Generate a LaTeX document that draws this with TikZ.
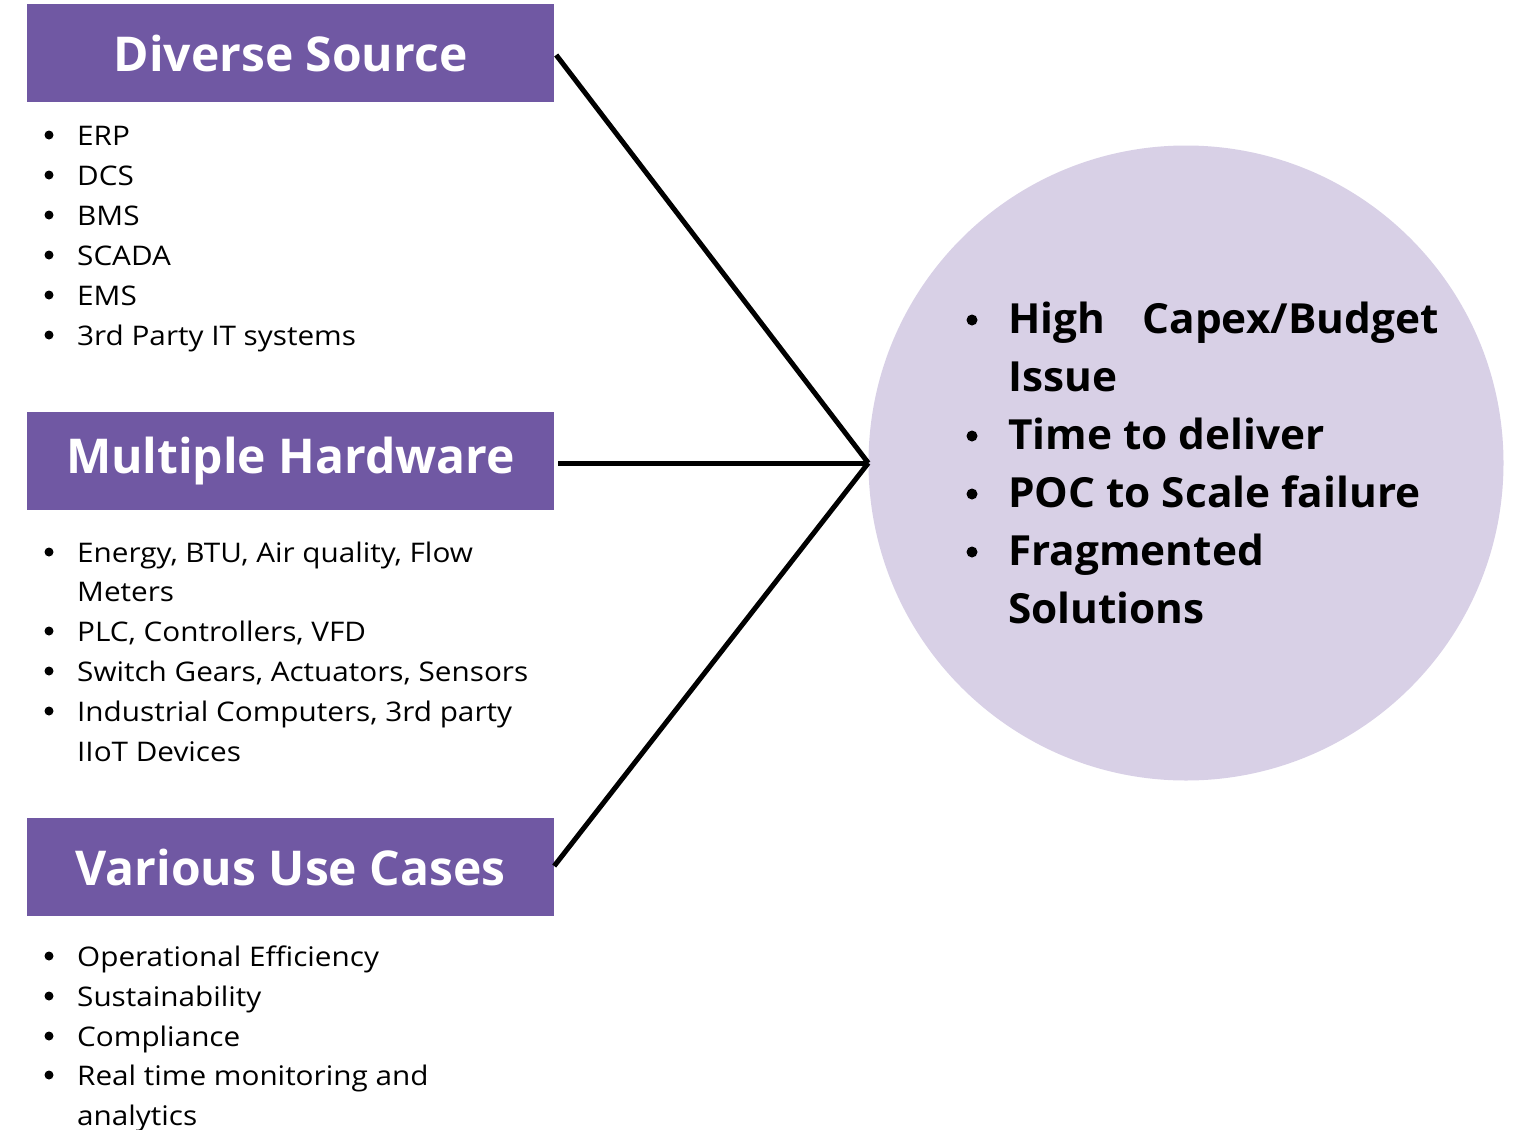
\documentclass[tikz,border=0pt]{standalone}
\usepackage{fontspec}
\setmainfont{Open Sans}
\newfontfamily\listfont[FakeStretch=1.1]{Open Sans}
\newfontfamily\circfont[FakeStretch=1.02]{Open Sans}
\definecolor{hdr}{HTML}{7058A3}
\definecolor{circ}{HTML}{D8D0E6}
\begin{document}
\begin{tikzpicture}[x=1pt,y=-1pt,
  hdrbox/.style={fill=hdr, draw=none, minimum width=527pt, minimum height=98pt, inner sep=0pt, text=white, font=\fontsize{48}{56}\selectfont\bfseries},
  item/.style={anchor=base west, inner sep=0pt, font=\listfont\fontsize{27}{32}\selectfont},
  dot/.style={circle, fill=black, inner sep=0pt, minimum size=9pt},
  bitem/.style={anchor=base west, inner sep=0pt, font=\circfont\fontsize{41.5}{48}\selectfont\bfseries},
  bdot/.style={circle, fill=black, inner sep=0pt, minimum size=11pt},
  conn/.style={line width=5pt}]
\useasboundingbox (0,0) rectangle (1521,1130);
\node[circle, fill=circ, minimum size=635pt, inner sep=0pt] (c) at (1186,463) {};
\node[hdrbox] (b1) at (290.5,53) {Diverse Source};
\node[hdrbox] (b2) at (290.5,461) {Multiple Hardware};
\node[hdrbox] (b3) at (290.5,867) {Various Use Cases};
% list 1
\foreach \t/\y [count=\i] in {ERP/135,DCS/175,BMS/215,SCADA/255,EMS/295,3rd Party IT systems/335}{
  \node[dot] (da\i) at (49,\y) {};
  \node[item] (ta\i) at (77,\y+10) {\t};
}
% list 2
\node[dot] (db1) at (49,552) {};
\node[item] (tb1) at (77,562) {Energy, BTU, Air quality, Flow};
\node[item] (tb1b) at (77,601) {Meters};
\node[dot] (db2) at (49,631) {};
\node[item] (tb2) at (77,641) {PLC, Controllers, VFD};
\node[dot] (db3) at (49,671) {};
\node[item] (tb3) at (77,681) {Switch Gears, Actuators, Sensors};
\node[dot] (db4) at (49,711) {};
\node[item] (tb4) at (77,721) {Industrial Computers, 3rd party};
\node[item] (tb4b) at (77,761) {IIoT Devices};
% list 3
\node[dot] (dc1) at (49,956) {};
\node[item] (tc1) at (77,966) {Operational Efficiency};
\node[dot] (dc2) at (49,996) {};
\node[item] (tc2) at (77,1006) {Sustainability};
\node[dot] (dc3) at (49,1036) {};
\node[item] (tc3) at (77,1046) {Compliance};
\node[dot] (dc4) at (49,1075) {};
\node[item] (tc4) at (77,1085) {Real time monitoring and};
\node[item] (tc4b) at (77,1125) {analytics};
% circle text
\node[bdot] (e1) at (972,320) {};
\node[bitem] (f1) at (1008,333) {High\hspace{0.9em}Capex/Budget};
\node[bitem] (f1b) at (1008,391) {Issue};
\node[bdot] (e2) at (972,436) {};
\node[bitem] (f2) at (1008,449) {Time to deliver};
\node[bdot] (e3) at (972,494) {};
\node[bitem] (f3) at (1008,507) {POC to Scale failure};
\node[bdot] (e4) at (972,552) {};
\node[bitem] (f4) at (1008,565) {Fragmented};
\node[bitem] (f4b) at (1008,623) {Solutions};
% connectors
\coordinate (hub) at (c.west);
\draw[conn] ([xshift=2pt,yshift=-2pt]b1.east) -- (hub);
\draw[conn] ([xshift=4pt,yshift=-2pt]b2.east) -- (hub);
\draw[conn] ([xshift=0pt,yshift=1pt]b3.east) -- (hub);
\end{tikzpicture}
\end{document}
